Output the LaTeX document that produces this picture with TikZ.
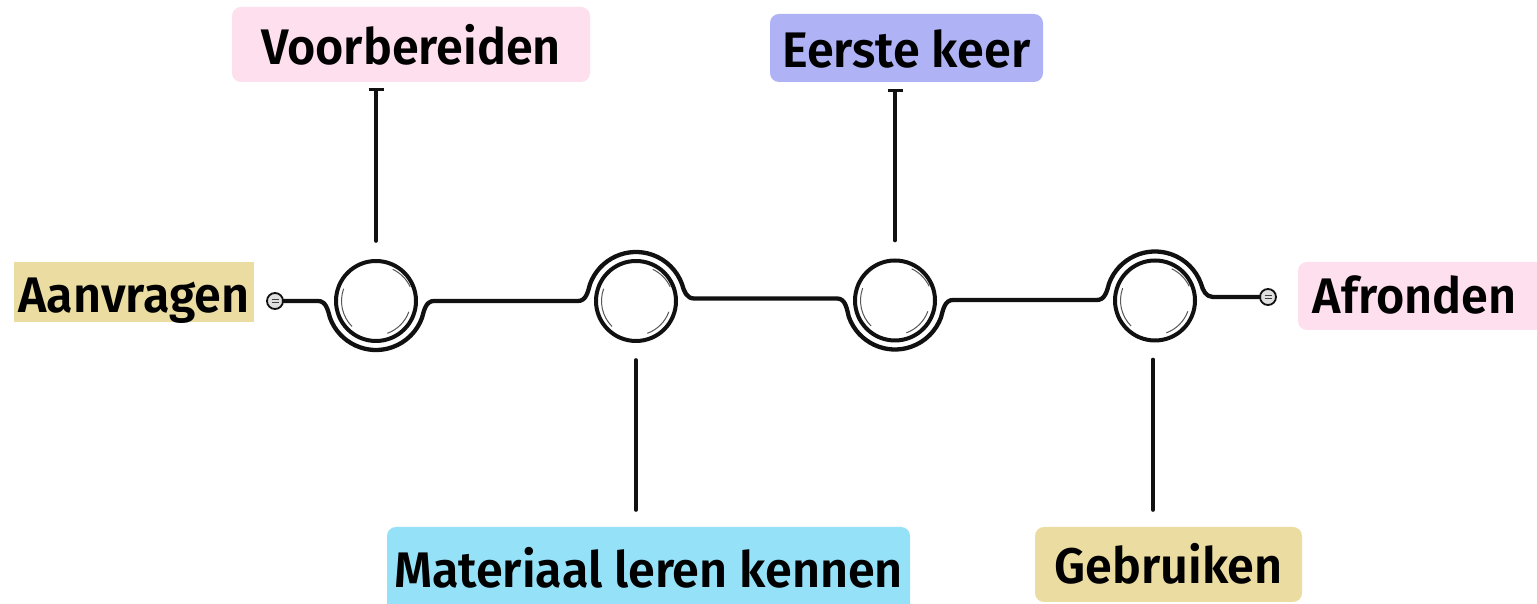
\documentclass[tikz,border=0pt]{standalone}
\usepackage{fontspec}
\newfontfamily\lblfont{Fira Sans}[UprightFont=* SemiBold, FakeStretch=0.97]
\usetikzlibrary{calc,arrows.meta}
\definecolor{pinkbox}{HTML}{FDDFEE}
\definecolor{yellowbox}{HTML}{EBDDA2}
\definecolor{purplebox}{HTML}{AFB2F4}
\definecolor{cyanbox}{HTML}{95E2F8}
\definecolor{ink}{HTML}{111111}
\begin{document}
\begin{tikzpicture}[x=1pt,y=1pt,
  lbl/.style={font=\lblfont\fontsize{50}{60}\selectfont, inner sep=0pt, outer sep=0pt,
    text height=34.5pt, text depth=0pt, rounded corners=9pt, anchor=center},
  stage/.style={circle, draw=ink, line width=4pt, minimum size=80pt, inner sep=0pt},
  term/.style={circle, draw=ink, line width=1.8pt, fill=black!12, minimum size=16pt, inner sep=0pt},
  mainline/.style={draw=ink, line width=4.3pt, line cap=round, line join=round},
  conn/.style={draw=ink, line width=3.6pt, line cap=round},
  sketch/.style={draw=ink!70, line width=1pt}
]
\useasboundingbox (0,0) rectangle (1537,604);
\fill[white] (0,0) rectangle (1537,604);

% label boxes
\node[lbl, fill=yellowbox, rounded corners=0pt, minimum width=240pt, minimum height=60pt, text height=41.5pt] (aa) at (134,312) {Aanvragen};
\node[lbl, fill=pinkbox, minimum width=358pt, minimum height=75pt, text height=40.5pt] (vb) at (411,559.5) {Voorbereiden};
\node[lbl, fill=purplebox, minimum width=273pt, minimum height=68pt, text height=38.5pt] (ek) at (906.5,556) {Eerste keer};
\node[lbl, fill=cyanbox, minimum width=523pt, minimum height=87pt] (ma) at (648.5,33.5) {Materiaal leren kennen};
\node[lbl, fill=yellowbox, minimum width=267pt, minimum height=75pt, text height=38.5pt] (ge) at (1168.5,39.5) {Gebruiken};
\node[lbl, fill=pinkbox, minimum width=247pt, minimum height=68pt, text height=35.5pt] (af) at (1421.5,308) {\hspace*{-14pt}Afronden};

% stage circles
\node[stage] (c1) at (376,303) {};
\node[stage] (c2) at (636,303) {};
\node[stage] (c3) at (895,303.5) {};
\node[stage] (c4) at (1155,303.5) {};

% terminals
\node[term] (t1) at (275,303) {};
\node[term] (t2) at (1268,307) {};
\foreach \t in {t1,t2}{
  \draw[ink!80, line width=0.9pt] ($(\t)+(-3.5,1.5)$) -- ($(\t)+(3.5,1.5)$);
  \draw[ink!80, line width=0.9pt] ($(\t)+(-3.5,-1.5)$) -- ($(\t)+(3.5,-1.5)$);
}

% main winding line
\draw[mainline] (t1.east) -- (318,303)
  to[out=0,in=105] ($(c1)+(200:49)$) arc[start angle=200,end angle=340,radius=49]
  to[out=75,in=180] (434,303) -- (578,303)
  to[out=0,in=255] ($(c2)+(160:49)$) arc[start angle=160,end angle=20,radius=49]
  to[out=-75,in=180] (694,305.5) -- (837,305.5)
  to[out=0,in=105] ($(c3)+(200:49)$) arc[start angle=200,end angle=340,radius=49]
  to[out=75,in=180] (953,304) -- (1097,304)
  to[out=0,in=255] ($(c4)+(160:49)$) arc[start angle=160,end angle=20,radius=49]
  to[out=-75,in=180] (1213,307) -- (t2.west);

% sketchy inner strokes
\foreach \c in {c1,c2,c3,c4}{
  \draw[sketch] ($(\c)+(1.5,-1)$) ++(25:36) arc[start angle=25,end angle=65,radius=36];
  \draw[sketch] ($(\c)+(1.5,0)$) ++(160:36) arc[start angle=160,end angle=225,radius=36];
  \draw[sketch] ($(\c)+(-1,1.5)$) ++(290:36) arc[start angle=290,end angle=340,radius=36];
}

% connectors
\draw[conn, {Bar[width=15pt,line width=3pt]}-, shorten <=6pt, shorten >=18pt] (c1 |- vb.south) -- (c1.north);
\draw[conn, {Bar[width=15pt,line width=3pt]}-, shorten <=7pt, shorten >=18pt] (c3 |- ek.south) -- (c3.north);
\draw[conn, shorten <=17pt, shorten >=17pt] (c2.south) -- (c2 |- ma.north);
\draw[conn, shorten <=17pt, shorten >=17pt] ([xshift=-2pt]c4.south) -- ([xshift=-2pt]c4 |- ge.north);
\end{tikzpicture}
\end{document}
